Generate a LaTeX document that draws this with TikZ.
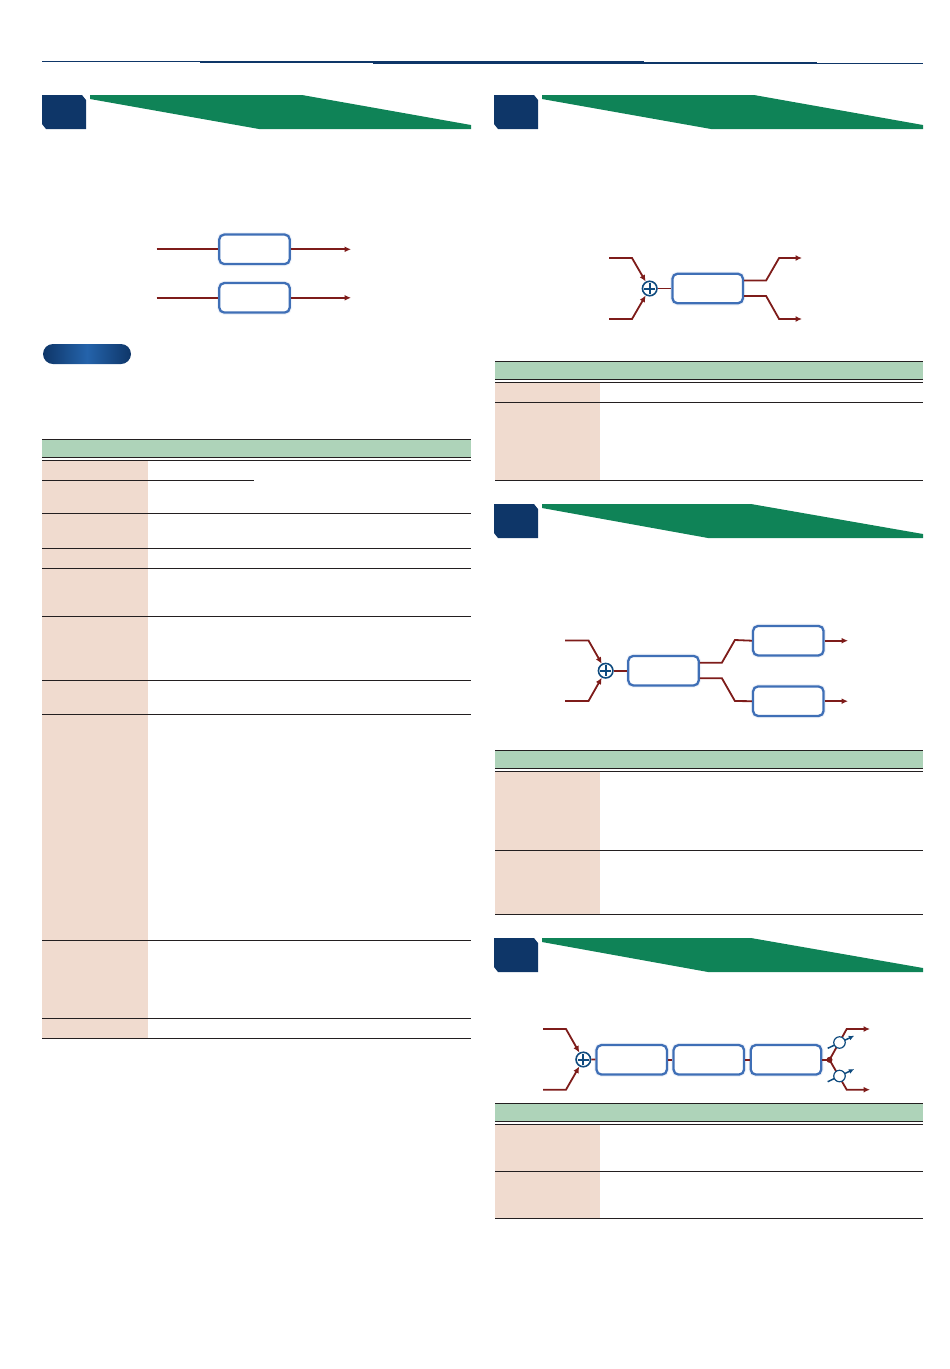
\documentclass[tikz,border=0pt]{standalone}
\usepackage{tikz}
\usetikzlibrary {arrows.meta,positioning,shapes.misc}
\definecolor{tabblue}{HTML}{0E3668}
\definecolor{bannergreen}{HTML}{0F8357}
\definecolor{headgreen}{HTML}{AED3B9}
\definecolor{cellpink}{HTML}{F0DBCF}
\definecolor{rulegray}{HTML}{231F20}
\definecolor{wirered}{HTML}{7E1C1A}
\definecolor{boxblue}{HTML}{3F6FB6}
\definecolor{sumblue}{HTML}{0E4A7E}
\definecolor{pillblue}{HTML}{2463AB}
\tikzset{
  fxbox/.style={draw=boxblue,line width=2.3pt,rounded corners=5pt,fill=white,inner sep=0pt,
    minimum width=70.5pt,minimum height=29.5pt,preaction={draw=boxblue!8,line width=4.5pt}},
  sumnode/.style={circle,draw=sumblue,line width=1.6pt,fill=white,inner sep=0pt,minimum size=14.5pt,
    path picture={\draw[sumblue,line width=2pt] ([yshift=-2pt]path picture bounding box.north) -- ([yshift=2pt]path picture bounding box.south)
      ([xshift=2pt]path picture bounding box.west) -- ([xshift=-2pt]path picture bounding box.east);}},
  levelnode/.style={circle,draw=sumblue,line width=1.2pt,fill=white,inner sep=0pt,minimum size=11.5pt},
  wire/.style={draw=wirered,line width=1.8pt},
  wirearrow/.style={wire,-{Latex[length=6.5pt,width=6pt]}},
  knob/.style={draw=sumblue,line width=1.5pt,-{Latex[length=5.5pt,width=5pt]}},
  tablerule/.style={draw=rulegray,line width=0.9pt}
}
\begin{document}
\begin{tikzpicture}[x=1pt,y=-1pt]
\useasboundingbox (0,0) rectangle (950,1369);
% top line
\foreach \xa/\xb/\ya/\yb in {42/200/61/62,200/373/61/63,373/644/61/64,644/817/62/64,817/923/63/64}
\fill [tabblue] (\xa,\ya) rectangle (\xb,\yb);
% section heads
\foreach \secx/\secy/\secd in {42/95/0,494/95/0,494/504/3,494/938/3}{
\fill [tabblue] (\secx,\secy) -- ++(40,0) -- ++(4,5) -- ++(0,29) -- ++(-40,0) -- ++(-4,-5) -- cycle;
\fill [bannergreen] (\secx+48,\secy) -- ++(212-\secd,0) -- (\secx+429,\secy+30) -- ++(0,4) -- ++(-213-\secd+1,0) -- (\secx+48,\secy+4) -- cycle;
}
% tables
\foreach \tabx/\taby/\tabw/\tabe in {42/439/429/1038,495/361/428/480,495/750/428/914,495/1103/428/1218}{
\fill [headgreen] (\tabx,\taby) rectangle (\tabx+\tabw,\taby+18.5);
\fill [cellpink] (\tabx,\taby+21) rectangle (\tabx+\ifnum\tabx=42 106\else 105\fi,\tabe);
\draw [tablerule] (\tabx,\taby) -- ++(\tabw,0);
\draw [tablerule] (\tabx,\taby+18.5) -- ++(\tabw,0);
\draw [tablerule] (\tabx,\taby+21) -- ++(\tabw,0);
\draw [tablerule] (\tabx,\tabe) -- ++(\tabw,0);
}
\draw [tablerule] (42,480) -- (254,480);
\foreach \ruley in {513,548,568,616,680,714,940,1018}
\draw [tablerule] (42,\ruley) -- (471,\ruley);
\foreach \ruley in {402,850,1171}
\draw [tablerule] (495,\ruley) -- (923,\ruley);
% note pill
\node [rounded rectangle,inner sep=0pt,minimum width=88pt,minimum height=20pt,
  left color=tabblue,right color=tabblue,middle color=pillblue] (notepill) at (87,354) {};
% first diagram
\node [fxbox] (boxA) at (254.5,249.3) {};
\node [fxbox] (boxB) at (254.5,297.8) {};
\coordinate (inA) at (156.5,249.3);
\coordinate (inB) at (156.5,297.8);
\coordinate (outA) at (351,249.3);
\coordinate (outB) at (351,297.8);
\draw [wire] (inA) -- (boxA);
\draw [wire] (inB) -- (boxB);
\draw [wirearrow] (boxA) -- (outA);
\draw [wirearrow] (boxB) -- (outB);
% second diagram
\node [sumnode] (sumC) at (649.7,288.5) {};
\node [fxbox] (boxC) at (707.7,288.5) {};
\coordinate (inCa) at (609,258);
\coordinate (inCb) at (609,319);
\coordinate (outCa) at (802,258);
\coordinate (outCb) at (802,319);
\draw [wirearrow] (inCa) -- ++(23,0) -- (sumC);
\draw [wirearrow] (inCb) -- ++(23,0) -- (sumC);
\draw [wire] (sumC) -- (boxC);
\draw [wirearrow] ([yshift=8pt]boxC.east) -- ++(22,0) -- ++(13,-22.5) -- (outCa);
\draw [wirearrow] ([yshift=-7.5pt]boxC.east) -- ++(22,0) -- ++(13,23) -- (outCb);
% third diagram
\node [sumnode] (sumD) at (605.7,670.7) {};
\node [fxbox] (boxD) at (663.5,670.7) {};
\node [fxbox] (boxE) at (788.3,640.7) {};
\node [fxbox] (boxF) at (788.3,701.2) {};
\coordinate (inDa) at (565,640.5);
\coordinate (inDb) at (565,701);
\coordinate (outE) at (848,640.7);
\coordinate (outF) at (848,701.2);
\draw [wirearrow] (inDa) -- ++(23.5,0) -- (sumD);
\draw [wirearrow] (inDb) -- ++(23.5,0) -- (sumD);
\draw [wire] (sumD) -- (boxD);
\draw [wire] ([yshift=8pt]boxD.east) -- ++(22,0) -- ++(13,-22.7) -- (boxE.west);
\draw [wire] ([yshift=-7.5pt]boxD.east) -- ++(22,0) -- ++(13,22.8) -- (boxF.west);
\draw [wirearrow] (boxE) -- (outE);
\draw [wirearrow] (boxF) -- (outF);
% fourth diagram
\node [sumnode] (sumG) at (583.3,1059.5) {};
\node [fxbox] (boxG) at (631.7,1059.8) {};
\node [fxbox] (boxH) at (708.8,1059.8) {};
\node [fxbox] (boxI) at (786,1059.8) {};
\coordinate (inGa) at (543,1029);
\coordinate (inGb) at (543,1089.7);
\coordinate (outIa) at (870,1029);
\coordinate (outIb) at (870,1089.7);
\coordinate (splitI) at (829.5,1059.8);
\draw [wirearrow] (inGa) -- ++(23,0) -- (sumG);
\draw [wirearrow] (inGb) -- ++(23,0) -- (sumG);
\draw [wire] (sumG) -- (boxG);
\draw [wire] (boxG) -- (boxH);
\draw [wire] (boxH) -- (boxI);
\draw [wire] (boxI) -- (splitI);
\draw [wirearrow] (splitI) -- ++(17.2,-30.8) -- (outIa);
\draw [wirearrow] (splitI) -- ++(17.2,29.9) -- (outIb);
\fill [wirered] (splitI) circle (3pt);
\coordinate (knobAa) at (827.7,1048.3);
\coordinate (knobAb) at (854.3,1035.7);
\coordinate (knobBa) at (827.7,1081.7);
\coordinate (knobBb) at (854.3,1069);
\draw [knob] (knobAa) -- (knobAb);
\draw [knob] (knobBa) -- (knobBb);
\node [levelnode] (levelA) at (839.5,1042.5) {};
\node [levelnode] (levelB) at (839.5,1076) {};
\end{tikzpicture}
\end{document}
